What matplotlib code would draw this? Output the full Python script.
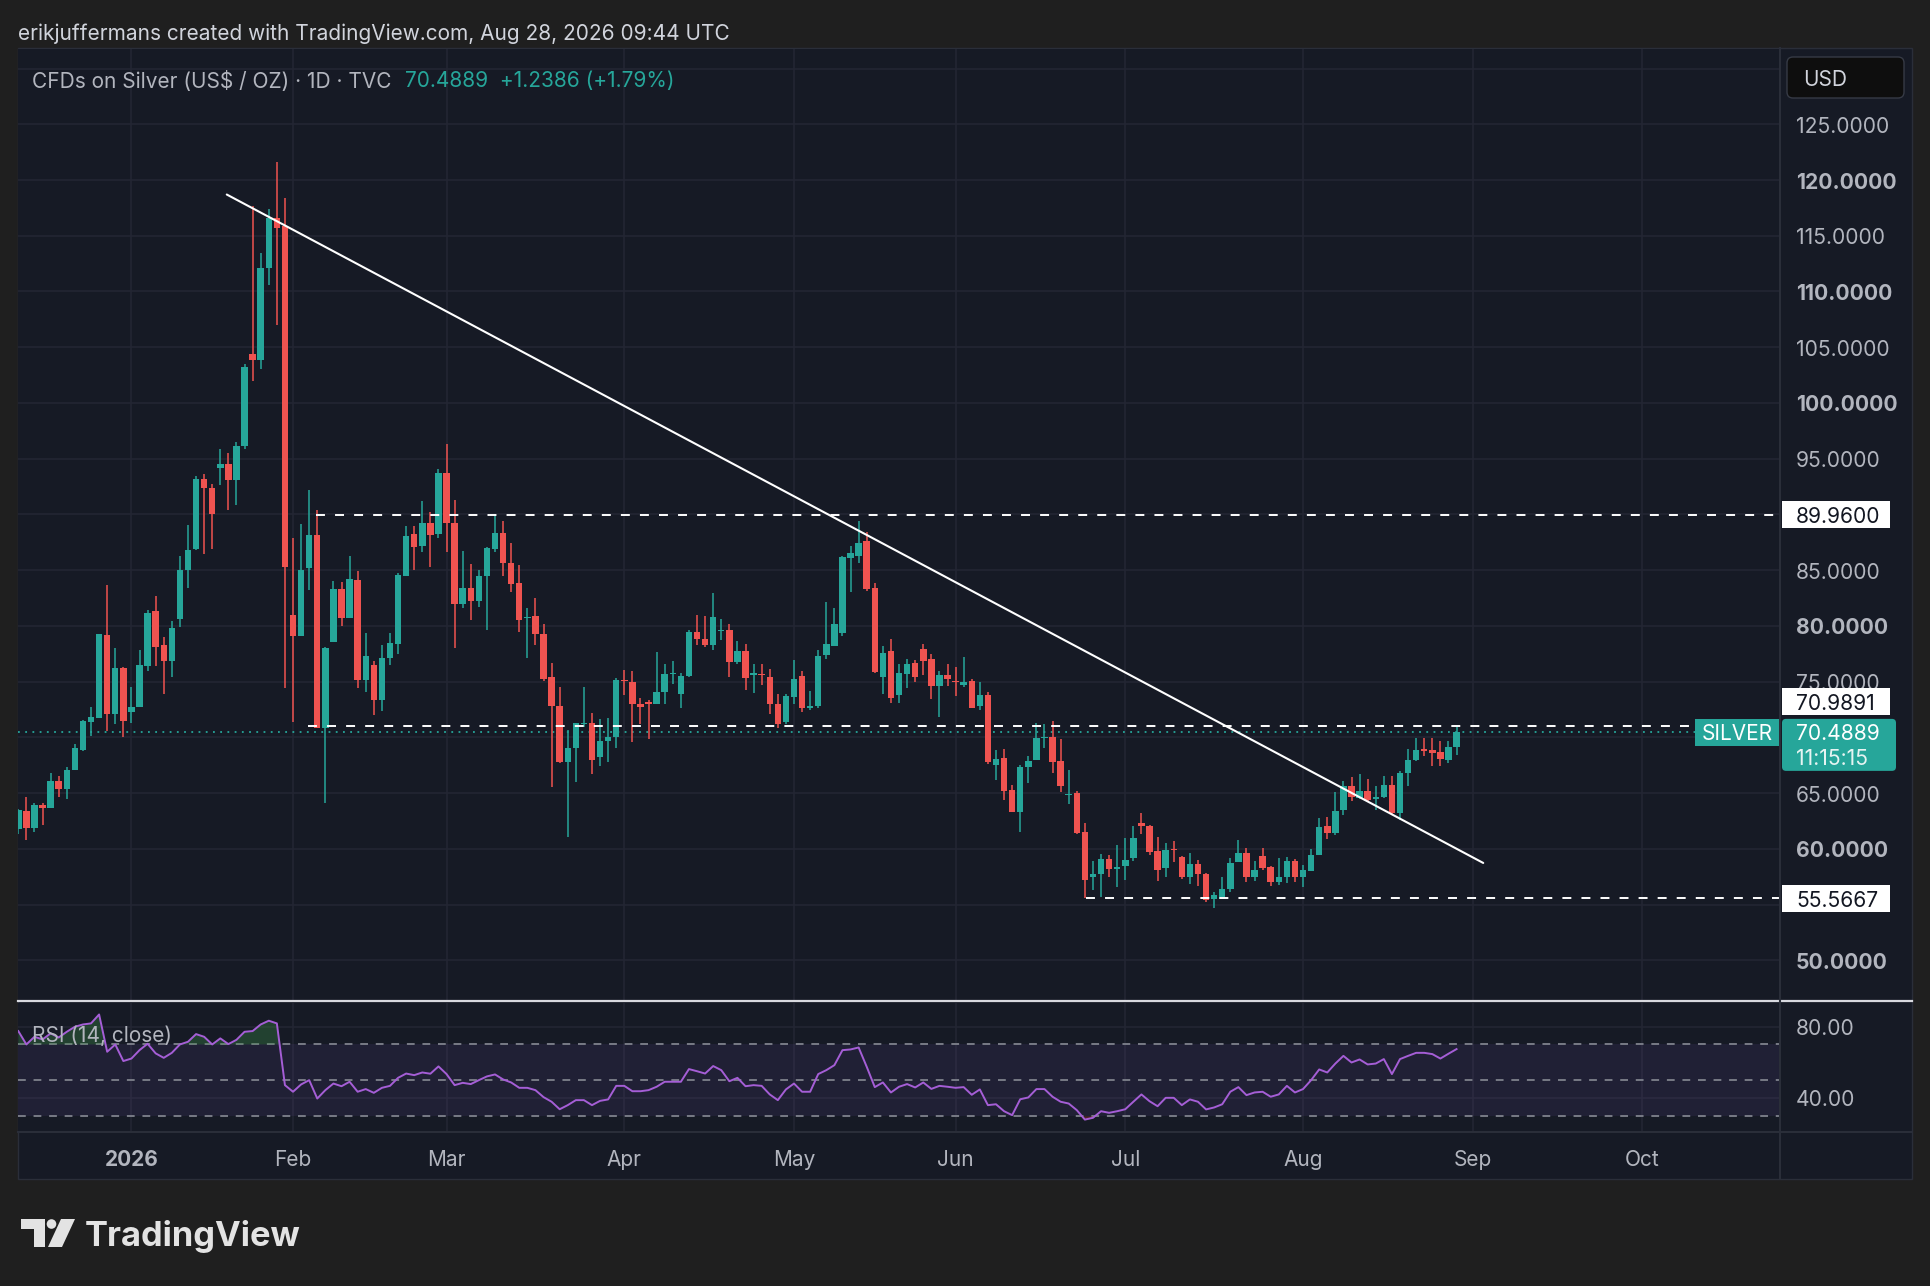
import numpy as np
import pandas as pd
import matplotlib
matplotlib.use('Agg')
import matplotlib.pyplot as plt
from matplotlib.patches import Rectangle, FancyBboxPatch, Polygon, Circle
from matplotlib.transforms import Affine2D, blended_transform_factory, ScaledTranslation
from matplotlib.lines import Line2D

plt.rcParams['font.family'] = ['Inter', 'DejaVu Sans']

# ---------------- data ----------------
first_date = '2025-12-11'
holidays = ['2025-12-25', '2026-01-01', '2026-01-19', '2026-02-16', '2026-04-03',
            '2026-05-25', '2026-06-19', '2026-07-03', '2026-09-07']

opens = [61.77, 63.41, 61.83, 63.95, 63.62, 66.11, 65.36, 67.07, 68.89, 71.35,
         71.74, 79.22, 72.10, 76.23, 72.31, 72.69, 76.44, 81.29, 78.32, 76.89,
         80.63, 84.97, 86.92, 93.14, 92.37, 94.19, 94.55, 93.05, 96.13, 104.38,
         103.88, 112.13, 116.62, 115.86, 80.94, 79.13, 85.16, 88.15, 70.88, 78.56,
         83.35, 80.67, 84.12, 75.10, 76.52, 73.38, 77.10, 78.37, 84.50, 88.23,
         87.19, 89.19, 88.23, 93.71, 89.23, 81.93, 83.43, 82.25, 84.49, 86.89,
         88.35, 85.66, 83.86, 80.69, 80.87, 79.31, 75.42, 72.78, 67.78, 69.00,
         71.17, 71.29, 68.23, 69.67, 70.03, 75.18, 74.97, 72.96, 73.14, 73.02,
         74.07, 75.66, 73.92, 75.48, 79.46, 78.86, 78.32, 79.55, 79.67, 76.77,
         77.75, 75.63, 75.69, 75.42, 72.96, 71.38, 73.62, 75.51, 72.66, 72.78,
         77.37, 78.17, 79.37, 86.11, 86.26, 87.63, 83.44, 75.42, 77.75, 73.77,
         75.72, 76.68, 77.96, 77.01, 74.61, 75.57, 75.06, 74.73, 75.09, 72.84,
         73.83, 67.51, 68.14, 65.27, 63.26, 67.37, 67.96, 69.91, 70.06, 67.84,
         64.79, 65.00, 61.53, 57.43, 57.72, 59.07, 58.17, 58.47, 59.13, 62.31,
         62.01, 59.82, 58.26, 59.94, 59.28, 57.49, 58.62, 57.78, 55.54, 55.54,
         56.38, 58.77, 59.58, 57.51, 59.37, 58.38, 57.04, 57.43, 58.92, 57.49,
         58.02, 59.43, 62.01, 61.41, 63.47, 65.60, 64.55, 65.21, 64.49, 64.61,
         65.72, 63.17, 66.80, 67.96, 68.95, 68.86, 68.65, 68.00, 69.16]
highs = [63.60, 64.61, 64.07, 64.07, 66.83, 66.56, 67.37, 69.40, 71.56, 72.69,
         79.30, 83.71, 78.02, 76.35, 74.55, 77.84, 81.44, 82.72, 78.98, 80.48,
         86.23, 89.07, 93.44, 93.65, 92.75, 95.84, 95.51, 96.50, 103.50, 117.70,
         113.48, 117.39, 121.61, 118.39, 87.84, 89.11, 92.18, 90.38, 78.10, 84.01,
         83.93, 86.31, 84.89, 79.32, 76.83, 78.25, 79.40, 84.70, 89.00, 88.92,
         91.22, 90.26, 94.10, 96.32, 91.30, 86.73, 85.54, 85.00, 87.10, 90.00,
         89.40, 87.40, 85.45, 81.56, 82.54, 80.15, 76.71, 74.52, 70.69, 71.30,
         74.52, 72.22, 71.62, 71.77, 75.36, 76.08, 75.93, 73.56, 73.32, 77.66,
         76.62, 76.83, 75.81, 79.67, 80.96, 80.87, 82.99, 80.66, 80.15, 78.65,
         78.35, 76.62, 76.56, 76.17, 73.92, 73.86, 76.92, 75.96, 74.16, 77.81,
         82.16, 81.56, 86.26, 87.16, 89.40, 88.44, 83.86, 78.20, 78.86, 76.62,
         77.07, 76.98, 78.35, 77.51, 75.96, 76.62, 76.32, 77.20, 75.24, 75.00,
         74.04, 68.86, 68.95, 65.72, 67.51, 68.35, 71.26, 71.20, 71.50, 69.85,
         67.07, 65.21, 62.31, 58.92, 59.52, 59.43, 60.36, 60.93, 62.07, 63.20,
         62.13, 61.02, 60.51, 60.72, 59.37, 59.58, 58.98, 57.87, 56.14, 57.43,
         59.16, 60.81, 60.03, 58.92, 60.03, 58.47, 59.16, 59.22, 59.07, 58.53,
         59.97, 62.75, 62.87, 65.12, 66.05, 66.41, 66.71, 66.26, 65.60, 66.50,
         66.50, 67.01, 68.95, 69.94, 69.91, 69.91, 69.64, 69.70, 70.96]
lows = [61.30, 60.78, 61.47, 62.13, 63.62, 64.67, 64.46, 67.07, 68.80, 70.15,
        71.70, 70.54, 71.20, 70.06, 71.26, 72.69, 75.93, 76.38, 73.89, 75.45,
        79.94, 83.41, 86.83, 86.47, 86.92, 92.66, 90.36, 90.81, 95.90, 101.96,
        103.04, 110.60, 106.95, 74.41, 71.34, 79.10, 83.24, 70.80, 64.09, 78.56,
        80.01, 80.67, 74.41, 74.03, 72.03, 72.34, 76.45, 77.48, 84.50, 84.97,
        86.62, 85.27, 87.84, 86.62, 77.98, 81.63, 80.55, 81.71, 79.61, 86.65,
        84.46, 83.05, 79.46, 77.13, 78.32, 75.06, 65.54, 67.69, 61.05, 65.99,
        70.93, 66.74, 67.42, 67.78, 69.04, 73.83, 69.58, 71.17, 69.82, 73.00,
        72.96, 74.82, 72.66, 75.42, 78.26, 78.11, 77.87, 78.71, 75.42, 76.62,
        74.28, 73.98, 74.67, 72.07, 70.87, 71.23, 73.02, 72.28, 72.43, 72.63,
        77.07, 78.17, 79.10, 83.05, 85.66, 83.14, 75.78, 73.92, 73.11, 73.11,
        74.46, 74.97, 75.57, 73.41, 71.83, 74.61, 73.68, 74.49, 72.60, 72.46,
        67.60, 66.17, 64.37, 63.26, 61.47, 65.87, 67.96, 69.04, 66.77, 65.06,
        64.01, 61.32, 55.57, 56.29, 55.63, 57.43, 56.59, 57.19, 58.92, 61.32,
        59.43, 57.13, 57.51, 58.77, 57.28, 56.83, 56.62, 55.27, 54.73, 55.48,
        56.08, 58.77, 57.04, 57.13, 58.11, 56.62, 56.74, 56.92, 57.04, 56.53,
        58.00, 59.40, 60.87, 61.23, 63.02, 64.25, 64.50, 64.16, 63.50, 64.55,
        63.11, 62.57, 65.60, 67.90, 68.29, 67.40, 67.46, 67.69, 68.41]
closes = [63.47, 61.83, 63.95, 63.62, 66.11, 65.36, 67.07, 69.04, 71.44, 71.80,
          79.28, 72.10, 76.23, 71.50, 72.75, 76.53, 81.14, 78.08, 76.89, 79.82,
          85.03, 86.83, 93.14, 92.37, 90.06, 94.55, 93.05, 96.11, 103.19, 103.88,
          112.13, 116.62, 115.70, 85.27, 79.13, 85.00, 88.15, 70.80, 77.98, 83.28,
          80.74, 84.24, 75.10, 77.29, 73.38, 77.10, 78.48, 84.58, 88.07, 87.08,
          89.19, 88.15, 93.71, 89.19, 81.93, 83.43, 82.20, 84.49, 86.95, 88.35,
          85.66, 83.80, 80.51, 80.78, 79.25, 75.27, 72.78, 67.78, 69.07, 71.29,
          71.26, 67.99, 69.67, 70.03, 75.12, 75.03, 72.96, 72.72, 72.96, 74.07,
          75.66, 75.81, 75.51, 79.46, 78.86, 78.32, 80.81, 79.64, 76.77, 77.72,
          75.36, 75.69, 75.60, 72.96, 71.23, 73.68, 75.27, 72.63, 72.84, 77.28,
          78.41, 80.21, 86.14, 86.56, 87.46, 83.35, 75.87, 77.60, 73.56, 75.78,
          76.62, 75.42, 76.86, 74.61, 75.57, 75.21, 74.94, 75.00, 72.60, 73.83,
          67.81, 68.05, 65.21, 63.26, 67.31, 67.90, 69.91, 69.97, 67.75, 65.66,
          64.88, 61.38, 57.22, 57.72, 59.07, 58.17, 58.41, 59.01, 60.93, 62.01,
          59.73, 58.11, 59.91, 59.85, 57.49, 58.62, 57.72, 55.39, 55.84, 56.38,
          58.71, 59.61, 57.51, 58.11, 58.26, 57.04, 57.49, 58.92, 57.49, 58.08,
          59.43, 61.98, 61.41, 63.41, 65.60, 64.61, 65.21, 64.37, 64.61, 65.72,
          63.20, 66.80, 68.00, 68.86, 68.80, 68.59, 68.05, 69.16, 70.49]

rsi_values = [77.5, 70.0, 74.3, 72.8, 76.2, 73.9, 77.1, 79.9, 81.2, 81.8,
              86.8, 65.9, 70.0, 60.7, 62.1, 66.8, 70.4, 65.0, 62.5, 65.3,
              70.0, 71.5, 75.8, 74.3, 70.0, 73.4, 70.2, 72.6, 77.1, 77.5,
              81.2, 83.3, 81.8, 47.2, 43.5, 47.6, 50.0, 39.7, 44.4, 48.1,
              46.6, 49.1, 43.5, 45.0, 42.9, 45.7, 46.8, 51.3, 53.7, 52.8,
              54.3, 53.6, 57.7, 53.4, 47.2, 48.5, 47.8, 50.0, 52.1, 53.2,
              50.4, 48.7, 45.7, 45.7, 44.4, 40.5, 37.9, 33.7, 36.0, 38.8,
              38.8, 36.0, 38.4, 39.2, 46.8, 46.8, 43.8, 43.8, 44.4, 46.3,
              49.1, 49.1, 49.1, 56.2, 55.0, 53.7, 57.9, 55.6, 49.4, 51.3,
              46.6, 47.2, 46.8, 42.0, 38.8, 44.8, 48.1, 43.5, 43.5, 53.4,
              55.6, 58.4, 66.8, 67.2, 68.3, 57.5, 46.1, 48.7, 43.1, 46.3,
              47.8, 45.9, 48.7, 45.1, 46.8, 46.3, 45.7, 46.1, 41.8, 44.8,
              36.0, 36.5, 32.6, 30.4, 39.3, 40.3, 45.0, 45.0, 40.7, 37.9,
              36.9, 33.2, 27.9, 28.9, 32.6, 31.7, 32.6, 33.7, 37.9, 42.0,
              38.2, 35.4, 40.1, 40.1, 36.0, 39.2, 37.9, 33.6, 34.7, 36.5,
              43.5, 46.1, 41.6, 43.1, 43.5, 40.7, 42.0, 46.8, 43.1, 45.0,
              50.0, 56.0, 54.3, 59.3, 63.6, 59.9, 61.6, 58.8, 59.3, 61.8,
              53.4, 61.8, 63.6, 65.3, 65.3, 64.6, 62.1, 64.8, 67.4]

last_price = 70.4889
levels = [89.96, 70.9891, 55.5667]
level_start_bar = [36.9, 35.9, 132.1]
trend_bar = [25.8, 181.3]
trend_price = [118.70, 58.73]
price_ticks = [125, 120, 115, 110, 105, 100, 95, 85, 80, 75, 65, 60, 50]
rsi_ticks = [80, 40]
rsi_levels = [70, 50, 30]
month_labels = ['2026', 'Feb', 'Mar', 'Apr', 'May', 'Jun', 'Jul', 'Aug', 'Sep', 'Oct']

header = 'erikjuffermans created with TradingView.com, Aug 28, 2026 09:44 UTC'
title = 'CFDs on Silver (US$ / OZ) · 1D · TVC'
title_vals = '70.4889  +1.2386 (+1.79%)'
countdown = '11:15:15'

# ---------------- dates ----------------
cal = pd.offsets.CustomBusinessDay(holidays=holidays)
all_dates = pd.date_range(first_date, '2026-10-30', freq=cal)
n = len(closes)
month_key = all_dates.year * 12 + all_dates.month
month_pos = [i for i in range(1, len(all_dates)) if month_key[i] != month_key[i - 1]]

# ---------------- style ----------------
W, H = 1930, 1286
OUTER = '#1f1f1f'
BG = '#161a25'
GRID = '#232633'
BORDER = '#2a2e39'
TXT = '#b2b5be'
UP = '#26a69a'
DN = '#ef5350'
FS = 15
PFS = 15.2
TY = 2.5   # small downward text nudge (px)

fig = plt.figure(figsize=(W / 100, H / 100), dpi=100, facecolor=OUTER)
T = Affine2D().scale(1, -1).translate(0, H)   # pixel coords from top-left
nudge = Affine2D().translate(0, -TY)

fig.add_artist(Rectangle((18, 48), 1894, 1131, transform=T, facecolor=BG,
                         edgecolor=BORDER, lw=1, zorder=-5))

X0, X1 = -0.037, 218.03
def ypx(p):
    return 124.3 + (125 - p) * 11.146
P_TOP = 125 + (124.3 - 49) / 11.146
P_BOT = 125 - (1001 - 124.3) / 11.146

ax = fig.add_axes([18 / W, 1 - 1001 / H, 1762 / W, 952 / H])
ax.set_facecolor(BG)
ax.set_xlim(X0, X1)
ax.set_ylim(P_BOT, P_TOP)
for s in ax.spines.values():
    s.set_visible(False)
ax.set_xticks([]); ax.set_yticks([])

for p in range(50, 135, 5):
    ax.axhline(p, color=GRID, lw=1.2, zorder=0)
for m in month_pos:
    ax.axvline(m, color=GRID, lw=1.2, zorder=0)

x = np.arange(n)
o = np.array(opens); h = np.array(highs); l = np.array(lows); c = np.array(closes)
col = np.where(c >= o, UP, DN)
ax.vlines(x, l, h, colors=col, lw=1.1, zorder=3)
ax.bar(x, np.maximum(np.abs(c - o), 0.12), bottom=np.minimum(o, c), width=0.8,
       color=col, edgecolor='none', zorder=4)

ax.axhline(last_price, color=UP, lw=1.3, ls=(0, (1, 3)), zorder=2)
for lv, st in zip(levels, level_start_bar):
    ax.plot([st, X1], [lv, lv], color='white', lw=1.4, ls=(0, (4.6, 5.2)), zorder=5)
ax.plot(trend_bar, trend_price, color='white', lw=1.5, zorder=6, solid_capstyle='round')

# ---------------- RSI pane ----------------
V_TOP = 80 + (1026.6 - 1003) / 1.785
V_BOT = 80 - (1132 - 1026.6) / 1.785
rax = fig.add_axes([18 / W, 1 - 1132 / H, 1762 / W, 129 / H])
rax.set_facecolor(BG)
rax.set_xlim(X0, X1)
rax.set_ylim(V_BOT, V_TOP)
for s in rax.spines.values():
    s.set_visible(False)
rax.set_xticks([]); rax.set_yticks([])
for v in rsi_ticks:
    rax.axhline(v, color=GRID, lw=1.2, zorder=0)
for m in month_pos:
    rax.axvline(m, color=GRID, lw=1.2, zorder=0)
rax.axhspan(rsi_levels[2], rsi_levels[0], color='#7e57c2', alpha=0.1, lw=0, zorder=1)
for v in rsi_levels:
    rax.axhline(v, color='#787b86', lw=1.4, ls=(0, (4, 4)), zorder=2)
r = np.array(rsi_values)
xr = np.arange(len(r))
rax.fill_between(xr, r, 70, where=r >= 70, interpolate=True, color='#3b8c45', alpha=0.35, lw=0, zorder=2)
rax.fill_between(xr, r, 30, where=r <= 30, interpolate=True, color='#c0392b', alpha=0.35, lw=0, zorder=2)
rax.plot(xr, r, color='#a55ed6', lw=1.4, zorder=4)

# ---------------- frame lines ----------------
fig.add_artist(Line2D([18, 1912], [1001, 1001], transform=T, color='#d8d9df', lw=1.6, zorder=10))
fig.add_artist(Line2D([18, 1912], [1132, 1132], transform=T, color=BORDER, lw=1.5, zorder=10))
fig.add_artist(Line2D([1780, 1780], [48, 1179], transform=T, color=BORDER, lw=1.5, zorder=10))

# ---------------- texts ----------------
TT = T + nudge
fig.text(18, 31, header, transform=TT, color='#d1d4dc', fontsize=FS, va='center', ha='left')
fig.text(32, 79, title, transform=TT, color=TXT, fontsize=FS, va='center', ha='left')
fig.text(405, 79, title_vals, transform=TT, color=UP, fontsize=FS, va='center', ha='left')

tp = blended_transform_factory(T, ax.transData) + nudge
for p in price_ticks:
    fig.text(1796, p, f'{p:.4f}', transform=tp, color=TXT, fontsize=PFS,
             fontweight='bold' if p % 10 == 0 else 'normal', va='center', ha='left', zorder=5)

tr = blended_transform_factory(T, rax.transData) + nudge
for v in rsi_ticks:
    fig.text(1796, v, f'{v:.2f}', transform=tr, color=TXT, fontsize=PFS, va='center', ha='left')
fig.text(32, 1033, 'RSI (14, close)', transform=TT, color=TXT, fontsize=FS, va='center', ha='left', zorder=12)

tt = blended_transform_factory(rax.transData, T) + nudge
for m, lab in zip(month_pos, month_labels):
    fig.text(m, 1157, lab, transform=tt, color=TXT, fontsize=FS, va='center', ha='center',
             fontweight='bold' if lab.isdigit() else 'normal')

# USD box
fig.add_artist(FancyBboxPatch((1787, 57), 117, 41, boxstyle='round,pad=0,rounding_size=6',
                              transform=T, facecolor='#0e0e0e', edgecolor='#363a45', lw=1, zorder=11))
fig.text(1803, 78, 'USD', transform=TT, color='#d1d4dc', fontsize=FS, va='center', ha='left', zorder=12)

# level labels
def white_label(cy, txt):
    fig.add_artist(Rectangle((1782, cy - 13.5), 108, 27, transform=T, facecolor='white',
                             edgecolor='none', zorder=11))
    fig.text(1796, cy, txt, transform=TT, color='#131722', fontsize=PFS, va='center', ha='left', zorder=12)

white_label(ypx(levels[0]), f'{levels[0]:.4f}')
white_label(ypx(last_price) - 30.4, f'{levels[1]:.4f}')
white_label(ypx(levels[2]), f'{levels[2]:.4f}')

cy = ypx(last_price)
fig.add_artist(FancyBboxPatch((1782, cy - 13), 114, 52, boxstyle='round,pad=0,rounding_size=4',
                              transform=T, facecolor=UP, edgecolor='none', zorder=11))
fig.text(1796, cy, f'{last_price:.4f}', transform=TT, color='white', fontsize=PFS, va='center', ha='left', zorder=12)
fig.text(1796, cy + 24.5, countdown, transform=TT, color='#e6f4f2', fontsize=PFS, va='center', ha='left', zorder=12)
fig.add_artist(Rectangle((1695, cy - 13), 84, 27, transform=T, facecolor=UP, edgecolor='none', zorder=11))
fig.text(1737, cy, 'SILVER', transform=TT, color='white', fontsize=FS, va='center', ha='center', zorder=12)

# TradingView logo
LOGO = '#e3e3e3'
fig.add_artist(Polygon([(21, 1219), (45, 1219), (45, 1247), (34, 1247), (34, 1229), (21, 1229)],
                       closed=True, transform=T, facecolor=LOGO, edgecolor='none'))
fig.add_artist(Circle((51.5, 1224), 4.8, transform=T, facecolor=LOGO, edgecolor='none'))
fig.add_artist(Polygon([(61, 1219), (75, 1219), (62, 1247), (48, 1247)],
                       closed=True, transform=T, facecolor=LOGO, edgecolor='none'))
fig.text(85, 1246, 'TradingView', transform=T, color=LOGO, fontsize=24.8, fontweight='bold',
         va='baseline', ha='left')

fig.savefig('out.png', dpi=100, facecolor=OUTER)
